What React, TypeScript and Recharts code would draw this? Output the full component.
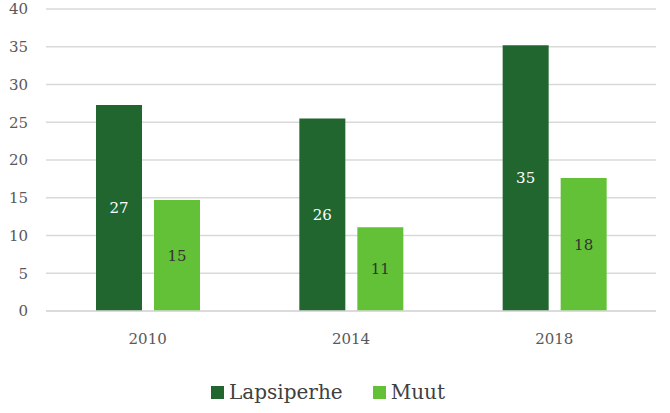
import React from 'react'
import { BarChart, Bar, XAxis, YAxis, CartesianGrid, Legend, LabelList } from 'recharts'

const years = ['2010', '2014', '2018']
const lapsiperhe = [27.3, 25.5, 35.2]
const muut = [14.7, 11.1, 17.6]
const yTicks = [0, 5, 10, 15, 20, 25, 30, 35, 40]

const DARK = '#21662e'
const LIGHT = '#63c137'
const FONT = '"DejaVu Serif", serif'

const data = years.map((y, i) => ({ year: y, Lapsiperhe: lapsiperhe[i], Muut: muut[i] }))

// legend with fixed height so plot area lands where the reference has it
const LegendBox = () => (
  <div
    style={{
      height: 52,
      display: 'flex',
      justifyContent: 'center',
      alignItems: 'center',
      paddingTop: 10,
      boxSizing: 'border-box',
      fontFamily: FONT,
      fontSize: 20,
      color: '#404040'
    }}
  >
    {[
      { name: 'Lapsiperhe', color: DARK },
      { name: 'Muut', color: LIGHT }
    ].map((it, i) => (
      <span key={it.name} style={{ display: 'flex', alignItems: 'center', marginLeft: i ? 30 : 0 }}>
        <span style={{ width: 13, height: 13, background: it.color, display: 'inline-block', marginRight: 5 }} />
        {it.name}
      </span>
    ))}
  </div>
)

export default function App() {
  React.useEffect(() => {
    document.body.style.margin = '0'
  }, [])
  return (
    <div style={{ width: 670, height: 413, background: '#fff' }}>
      <BarChart
        width={670}
        height={413}
        data={data}
        margin={{ top: 9, right: 14, left: 0, bottom: 0 }}
        barGap={12}
        barSize={46}
      >
        <CartesianGrid vertical={false} stroke="#d9d9d9" strokeWidth={1.5} />
        <XAxis
          dataKey="year"
          height={50}
          axisLine={{ stroke: '#d9d9d9', strokeWidth: 1.5 }}
          tickLine={false}
          tickSize={8}
          tickMargin={14}
          tick={{ fontFamily: FONT, fontSize: 15, fill: '#595959' }}
        />
        <YAxis
          width={46}
          domain={[0, 40]}
          ticks={yTicks}
          axisLine={false}
          tickLine={false}
          tickSize={8}
          tickMargin={10}
          tick={{ fontFamily: FONT, fontSize: 15, fill: '#595959' }}
        />
        <Legend verticalAlign="bottom" content={<LegendBox />} />
        <Bar dataKey="Lapsiperhe" fill={DARK} isAnimationActive={false}>
          <LabelList
            dataKey="Lapsiperhe"
            position="center"
            formatter={(v: any) => Math.round(Number(v))}
            style={{ fontFamily: FONT, fontSize: 15, fill: '#ffffff' }}
          />
        </Bar>
        <Bar dataKey="Muut" fill={LIGHT} isAnimationActive={false}>
          <LabelList
            dataKey="Muut"
            position="center"
            formatter={(v: any) => Math.round(Number(v))}
            style={{ fontFamily: FONT, fontSize: 15, fill: '#333333' }}
          />
        </Bar>
      </BarChart>
    </div>
  )
}
